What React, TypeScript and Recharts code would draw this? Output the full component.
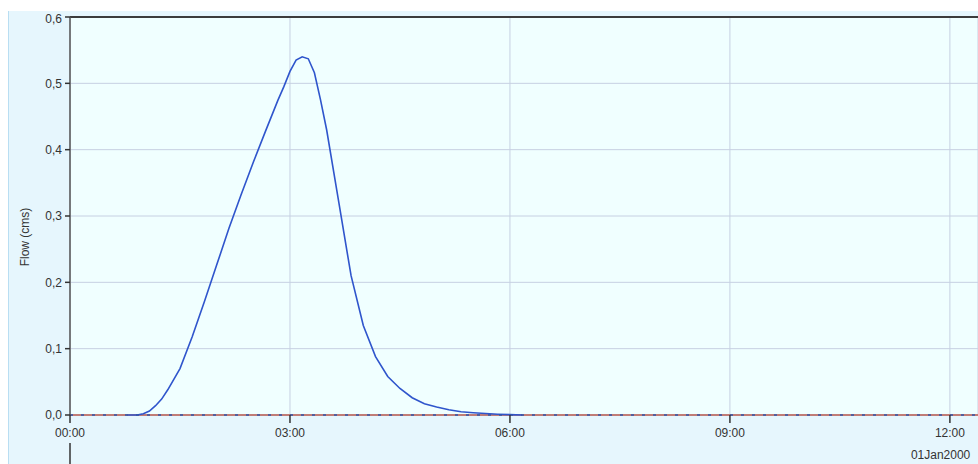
import React from "react";
import {
  LineChart,
  Line,
  XAxis,
  YAxis,
  CartesianGrid,
  ReferenceLine,
  Label,
} from "recharts";

// minutes since 00:00
const minutes = [
  47, 55, 60, 65, 70, 75, 80, 90, 100, 110, 120, 130, 140, 150, 160, 170,
  175, 180, 185, 190, 195, 200, 205, 210, 220, 230, 240, 250, 260, 270, 280,
  290, 300, 310, 320, 330, 340, 350, 360, 370,
];

const flow = [
  0, 0, 0.002, 0.006, 0.014, 0.024, 0.038, 0.07, 0.118, 0.171, 0.226, 0.281,
  0.332, 0.381, 0.428, 0.474, 0.495, 0.518, 0.535, 0.54, 0.537, 0.516, 0.475,
  0.43, 0.32, 0.21, 0.135, 0.088, 0.058, 0.04, 0.026, 0.017, 0.012, 0.008,
  0.005, 0.0035, 0.0022, 0.0012, 0.0005, 0,
];

const xTicks = [0, 180, 360, 540, 720];
const yTicks = [0, 0.1, 0.2, 0.3, 0.4, 0.5, 0.6];
const dateLabel = "01Jan2000";

const data = minutes.map((m, i) => ({ t: m, flow: flow[i] }));

const FONT = "Arial, 'Liberation Sans', sans-serif";

function fmtTime(m: number) {
  const h = Math.floor(m / 60);
  const mm = m % 60;
  return `${String(h).padStart(2, "0")}:${String(mm).padStart(2, "0")}`;
}

function DateTick(props: any) {
  const { x, y, payload } = props;
  if (payload.value === 0) {
    return <line x1={x} x2={x} y1={y - 2} y2={y + 20} stroke="#333" strokeWidth={1.5} />;
  }
  // reference label starts a bit left of the 12:00 tick and runs to the edge
  return (
    <text x={x - 39} y={y + 14} textAnchor="start" fontSize={12} fontFamily={FONT} fill="#333">
      {dateLabel}
    </text>
  );
}

export default function App() {
  return (
    <div
      style={{
        position: "absolute",
        left: 8,
        top: 11,
        width: 970,
        height: 453,
        background: "#e6f6fd",
        boxShadow: "inset 1px 0 0 #b9def2",
        overflow: "hidden",
      }}
    >
      <LineChart
        width={970}
        height={453}
        data={data}
        margin={{ top: 6, right: 0, left: 0, bottom: 0 }}
      >
        <CartesianGrid stroke="#c6d0e2" fill="#f0ffff" />
        <XAxis
          dataKey="t"
          type="number"
          domain={[0, 743]}
          ticks={xTicks}
          tickFormatter={fmtTime}
          height={30}
          axisLine={false}
          tickSize={8}
          tickMargin={5}
          tickLine={{ stroke: "#333", strokeWidth: 1.5 }}
          tick={{ fill: "#333", fontSize: 12, fontFamily: FONT }}
          allowDataOverflow
        />
        <XAxis
          xAxisId="date"
          dataKey="t"
          type="number"
          domain={[0, 743]}
          ticks={[0, 720]}
          height={19}
          axisLine={false}
          tickLine={false}
          tickSize={0}
          tickMargin={0}
          tick={<DateTick />}
          allowDataOverflow
        />
        <YAxis
          type="number"
          domain={[0, 0.6]}
          ticks={yTicks}
          width={62}
          tickFormatter={(v: number) => v.toFixed(1).replace(".", ",")}
          axisLine={{ stroke: "#555", strokeWidth: 1.5 }}
          tickSize={5}
          tickMargin={3}
          tickLine={{ stroke: "#333", strokeWidth: 1.5 }}
          tick={{ fill: "#333", fontSize: 12, fontFamily: FONT }}
        >
          <Label
            content={() => (
              <text
                x={21}
                y={226}
                transform="rotate(-90, 21, 226)"
                textAnchor="middle"
                fontSize={12}
                fontFamily={FONT}
                fill="#333"
              >
                Flow (cms)
              </text>
            )}
          />
        </YAxis>
        <ReferenceLine y={0.6} stroke="#3c3c3c" strokeWidth={2} />
        <ReferenceLine y={0} stroke="#b85a4e" strokeWidth={1.5} />
        <Line
          dataKey="flow"
          type="linear"
          stroke="#2f55cc"
          strokeWidth={1.6}
          dot={false}
          isAnimationActive={false}
        />
        <ReferenceLine y={0} stroke="#2f55aa" strokeWidth={1.5} strokeDasharray="3 8" />
      </LineChart>
    </div>
  );
}
